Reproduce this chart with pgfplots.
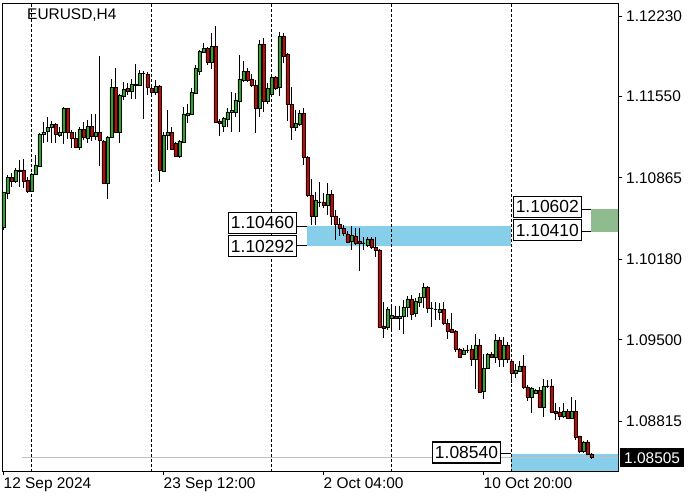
\documentclass[border=0pt]{standalone}
\usepackage{fontspec}
\setmainfont{Liberation Sans}
\usepackage{pgfplots}
\usepackage{pgfplotstable}
\pgfplotsset{compat=1.18}

\definecolor{bull}{RGB}{40,170,40}
\definecolor{bear}{RGB}{215,0,0}
\definecolor{zoneblue}{RGB}{135,206,235}
\definecolor{zonegreen}{RGB}{143,188,143}
\definecolor{bidline}{RGB}{192,192,192}

% EURUSD H4 candles, bar 0 = 12 Sep 2024 20:00
\pgfplotstableread{
x o h l c
0 1.10451 1.10746 1.10426 1.10746
1 1.10738 1.10889 1.10687 1.10872
2 1.10872 1.10906 1.10788 1.10839
3 1.10839 1.10948 1.10822 1.10932
4 1.10932 1.11016 1.10788 1.10923
5 1.10932 1.11024 1.10780 1.10839
6 1.10847 1.10872 1.10738 1.10754
7 1.10754 1.10906 1.10746 1.10898
8 1.10898 1.11058 1.10889 1.10974
9 1.10965 1.11243 1.10957 1.11235
10 1.11235 1.11336 1.11159 1.11252
11 1.11260 1.11378 1.11168 1.11294
12 1.11294 1.11345 1.11159 1.11319
13 1.11319 1.11328 1.11159 1.11235
14 1.11227 1.11294 1.11210 1.11252
15 1.11252 1.11463 1.11151 1.11454
16 1.11454 1.11454 1.11193 1.11252
17 1.11252 1.11269 1.11117 1.11201
18 1.11201 1.11252 1.11117 1.11125
19 1.11125 1.11294 1.11100 1.11277
20 1.11277 1.11336 1.11184 1.11210
21 1.11201 1.11353 1.11159 1.11302
22 1.11302 1.11404 1.11176 1.11218
23 1.11218 1.11404 1.11184 1.11252
24 1.11252 1.11893 1.10965 1.11184
25 1.11176 1.11184 1.10813 1.10822
26 1.10822 1.11218 1.10687 1.11210
27 1.11210 1.11699 1.11201 1.11631
28 1.11631 1.11792 1.11252 1.11252
29 1.11252 1.11572 1.11159 1.11564
30 1.11555 1.11673 1.11522 1.11614
31 1.11623 1.11665 1.11564 1.11598
32 1.11598 1.11699 1.11530 1.11657
33 1.11648 1.11825 1.11530 1.11657
34 1.11648 1.11775 1.11640 1.11749
35 1.11749 1.11766 1.11362 1.11749
36 1.11741 1.11758 1.11564 1.11631
37 1.11623 1.11648 1.11564 1.11589
38 1.11589 1.11690 1.11564 1.11640
39 1.11640 1.11648 1.10830 1.10932
40 1.10923 1.11252 1.10915 1.11227
41 1.11227 1.11437 1.11100 1.11252
42 1.11252 1.11294 1.11100 1.11108
43 1.11159 1.11168 1.11041 1.11050
44 1.11050 1.11184 1.11033 1.11176
45 1.11168 1.11463 1.11168 1.11404
46 1.11395 1.11488 1.11328 1.11412
47 1.11404 1.11623 1.11395 1.11589
48 1.11581 1.11817 1.11581 1.11792
49 1.11766 1.11943 1.11733 1.11935
50 1.11926 1.12002 1.11918 1.11960
51 1.11960 1.11969 1.11817 1.11842
52 1.11842 1.12087 1.11783 1.11977
53 1.11977 1.12146 1.11328 1.11336
54 1.11345 1.11362 1.11218 1.11328
55 1.11302 1.11378 1.11252 1.11370
56 1.11362 1.11454 1.11294 1.11421
57 1.11421 1.11589 1.11252 1.11437
58 1.11421 1.11581 1.11378 1.11522
59 1.11513 1.11901 1.11252 1.11699
60 1.11690 1.11851 1.11673 1.11766
61 1.11766 1.11792 1.11673 1.11690
62 1.11699 1.11741 1.11631 1.11648
63 1.11648 1.11690 1.11243 1.11454
64 1.11454 1.12028 1.11378 1.11994
65 1.11994 1.12044 1.11421 1.11513
66 1.11513 1.11665 1.11488 1.11623
67 1.11572 1.11733 1.11547 1.11716
68 1.11716 1.11724 1.11606 1.11623
69 1.11631 1.12095 1.11555 1.12061
70 1.12061 1.12087 1.11834 1.11893
71 1.11910 1.11918 1.11345 1.11488
72 1.11488 1.11631 1.11184 1.11294
73 1.11294 1.11437 1.11260 1.11328
74 1.11319 1.11437 1.11302 1.11412
75 1.11412 1.11454 1.10974 1.11041
76 1.11041 1.11050 1.10704 1.10721
77 1.10721 1.10856 1.10468 1.10544
78 1.10544 1.10746 1.10468 1.10679
79 1.10662 1.10830 1.10620 1.10662
80 1.10662 1.10738 1.10611 1.10636
81 1.10636 1.10822 1.10552 1.10729
82 1.10729 1.10763 1.10468 1.10544
83 1.10544 1.10594 1.10341 1.10476
84 1.10476 1.10527 1.10375 1.10442
85 1.10442 1.10468 1.10375 1.10400
86 1.10392 1.10417 1.10316 1.10324
87 1.10333 1.10459 1.10257 1.10383
88 1.10375 1.10442 1.10299 1.10316
89 1.10333 1.10442 1.10080 1.10316
90 1.10316 1.10367 1.10257 1.10316
91 1.10299 1.10367 1.10282 1.10350
92 1.10350 1.10367 1.10265 1.10282
93 1.10282 1.10367 1.10198 1.10257
94 1.10257 1.10265 1.09599 1.09608
95 1.09616 1.09818 1.09515 1.09599
96 1.09608 1.09776 1.09582 1.09759
97 1.09684 1.09785 1.09565 1.09709
98 1.09700 1.09785 1.09684 1.09684
99 1.09684 1.09785 1.09582 1.09700
100 1.09700 1.09835 1.09549 1.09776
101 1.09776 1.09869 1.09692 1.09844
102 1.09844 1.09878 1.09667 1.09717
103 1.09726 1.09852 1.09692 1.09827
104 1.09818 1.09894 1.09776 1.09861
105 1.09861 1.09979 1.09768 1.09945
106 1.09945 1.09953 1.09726 1.09768
107 1.09768 1.09818 1.09608 1.09768
108 1.09759 1.09818 1.09667 1.09759
109 1.09734 1.09810 1.09667 1.09759
110 1.09759 1.09818 1.09625 1.09641
111 1.09641 1.09675 1.09506 1.09574
112 1.09591 1.09726 1.09565 1.09565
113 1.09574 1.09582 1.09397 1.09422
114 1.09422 1.09431 1.09355 1.09355
115 1.09380 1.09431 1.09372 1.09414
116 1.09414 1.09456 1.09388 1.09414
117 1.09422 1.09456 1.09279 1.09338
118 1.09338 1.09549 1.09085 1.09456
119 1.09456 1.09506 1.09051 1.09060
120 1.09068 1.09380 1.09001 1.09262
121 1.09262 1.09388 1.09254 1.09380
122 1.09380 1.09397 1.09355 1.09355
123 1.09355 1.09549 1.09304 1.09498
124 1.09498 1.09523 1.09270 1.09338
125 1.09338 1.09523 1.09270 1.09456
126 1.09456 1.09481 1.09304 1.09338
127 1.09321 1.09338 1.09135 1.09220
128 1.09220 1.09296 1.09178 1.09245
129 1.09237 1.09321 1.09228 1.09279
130 1.09279 1.09372 1.09085 1.09102
131 1.09102 1.09119 1.08984 1.09017
132 1.09017 1.09102 1.08882 1.09093
133 1.09051 1.09085 1.09043 1.09076
134 1.09076 1.09102 1.08925 1.08933
135 1.08933 1.09169 1.08849 1.09110
136 1.09110 1.09161 1.09093 1.09110
137 1.09110 1.09169 1.08882 1.08891
138 1.08899 1.08967 1.08823 1.08882
139 1.08891 1.08933 1.08823 1.08857
140 1.08857 1.08967 1.08840 1.08899
141 1.08899 1.08916 1.08832 1.08840
142 1.08840 1.09017 1.08832 1.08899
143 1.08899 1.08992 1.08655 1.08680
144 1.08689 1.08689 1.08545 1.08562
145 1.08562 1.08646 1.08545 1.08638
146 1.08638 1.08655 1.08528 1.08537
147 1.08537 1.08545 1.08495 1.08505
}\candles

\tikzset{
  pricebox/.style={draw=black, line width=1.2bp, fill=white, inner xsep=2bp, inner ysep=0pt,
    minimum width=68bp, minimum height=21bp, font=\fontsize{17.5}{20}\selectfont},
  leader/.style={black, line width=0.8bp},
}

\begin{document}
\begin{tikzpicture}
\begin{axis}[
  at={(0,0)}, anchor=south west,
  width=616bp, height=468bp, scale only axis,
  xmin=-0.375, xmax=153.625,
  ymin=1.08393, ymax=1.12340,
  axis line style={black, line width=0.8bp},
  tick align=outside, major tick length=4bp,
  tick style={black, line width=0.8bp},
  xtick pos=left, ytick pos=right, yticklabel pos=right,
  xtick={0,40,80,120},
  xticklabels={12 Sep 2024, 23 Sep 12:00, 2 Oct 04:00, 10 Oct 20:00},
  ytick={1.08815,1.09500,1.10180,1.10865,1.11550,1.12230},
  yticklabels={1.08815,1.09500,1.10180,1.10865,1.11550,1.12230},
  scaled y ticks=false,
  ticklabel style={font=\fontsize{15.5}{18}\selectfont},
  xticklabel style={anchor=north west, inner sep=0pt, yshift=-3bp},
  yticklabel style={anchor=west, inner sep=0pt, xshift=4bp},
  extra y ticks={1.08505},
  extra y tick labels={1.08505},
  extra y tick style={major tick length=0pt,
    yticklabel style={fill=black, text=white, inner xsep=4bp, inner ysep=4bp, xshift=-2bp}},
]
% zones
\addplot[fill=zoneblue, draw=none] coordinates {(75.95,1.10292) (126.95,1.10292) (126.95,1.10460) (75.95,1.10460)};
\addplot[fill=zoneblue, draw=none] coordinates {(126.95,1.0830) (160,1.0830) (160,1.08540) (126.95,1.08540)};
\addplot[fill=zonegreen, draw=none] coordinates {(146.9,1.10410) (160,1.10410) (160,1.10602) (146.9,1.10602)};

% week separators
\pgfplotsinvokeforeach{7,37,67,97,127}{
  \draw[black, line width=0.8bp, dash pattern=on 3bp off 2bp] (axis cs:#1,1.083) -- (axis cs:#1,1.125);
}

% bid line
\addplot[bidline, line width=1bp] coordinates {(4.5,1.08505) (160,1.08505)};

% wicks: high-low as vertical error bars
\addplot[draw=none, no markers, error bars/.cd, y dir=both, y explicit, error mark=none,
  error bar style={draw=black, line width=1bp, solid}]
  table[x=x, y expr={(\thisrow{h}+\thisrow{l})/2}, y error expr={(\thisrow{h}-\thisrow{l})/2}] {\candles};

% bodies: one filled \addplot box per candle, green up, red down, black for a doji
\pgfplotsinvokeforeach{0,...,147}{
  \pgfplotstablegetelem{#1}{o}\of\candles \let\co\pgfplotsretval
  \pgfplotstablegetelem{#1}{c}\of\candles \let\cc\pgfplotsretval
  \pgfmathtruncatemacro\dir{(\cc>\co)+2*(\cc<\co)}
  \ifcase\dir \def\bodycol{black}\or \def\bodycol{bull}\or \def\bodycol{bear}\fi
  \pgfmathsetmacro\xl{#1-0.4}
  \pgfmathsetmacro\xr{#1+0.4}
  \edef\temp{\noexpand\addplot[fill=\bodycol, draw=black, line width=0.6bp, line join=miter, forget plot]
    coordinates {(\xl,\co) (\xr,\co) (\xr,\cc) (\xl,\cc) (\xl,\co)};}
  \temp
}

% price labels
\draw[leader] (axis cs:73.4,1.10460) -- (axis cs:75.95,1.10460);
\draw[leader] (axis cs:73.4,1.10292) -- (axis cs:75.95,1.10292);
\node[pricebox, anchor=south east] at (axis cs:73.4,1.10392) {1.10460};
\node[pricebox, anchor=north east] at (axis cs:73.4,1.10383) {1.10292};
\draw[leader] (axis cs:144.6,1.10602) -- (axis cs:146.9,1.10602);
\draw[leader] (axis cs:144.6,1.10410) -- (axis cs:146.9,1.10410);
\node[pricebox, anchor=south east] at (axis cs:144.6,1.10527) {1.10602};
\node[pricebox, anchor=north east] at (axis cs:144.6,1.10518) {1.10410};
\draw[leader] (axis cs:124.4,1.08540) -- (axis cs:126.95,1.08540);
\node[pricebox, anchor=east] at (axis cs:124.4,1.08549) {1.08540};

\node[anchor=north west, inner sep=0pt, font=\fontsize{15.5}{18}\selectfont] at (rel axis cs:0.0406,0.989) {EURUSD,H4};
\end{axis}
\pgfresetboundingbox
\path[use as bounding box] (-2bp,-29bp) rectangle (698bp,471bp);
\end{tikzpicture}
\end{document}
